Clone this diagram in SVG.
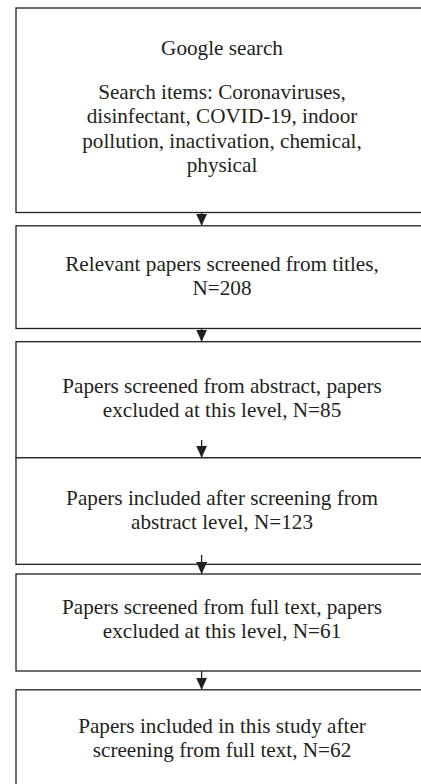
<svg xmlns="http://www.w3.org/2000/svg" width="421" height="784" viewBox="0 0 421 784">
  <style>
    .box { fill: #ffffff; stroke: #231f20; stroke-width: 1.3; }
    .lbl { font-family: "Liberation Serif", "Times New Roman", serif; font-size: 21.2px; fill: #231f20; text-anchor: middle; }
    .conn { stroke: #231f20; stroke-width: 1.3; fill: none; marker-end: url(#arr); }
  </style>
  <defs>
    <marker id="arr" markerUnits="userSpaceOnUse" viewBox="0 0 12 11" markerWidth="12" markerHeight="11" refX="12" refY="5.5" orient="auto">
      <path d="M0,0 L12,5.5 L0,11 Z" fill="#231f20"/>
    </marker>
  </defs>
  <rect width="421" height="784" fill="#ffffff"/>

  <g id="node-google">
    <rect class="box" x="16" y="8" width="420" height="204.5"/>
    <text class="lbl" x="222" y="54.5">Google search</text>
    <text class="lbl" x="222" y="99">Search items: Coronaviruses,</text>
    <text class="lbl" x="222" y="123.3">disinfectant, COVID-19, indoor</text>
    <text class="lbl" x="222" y="147.6">pollution, inactivation, chemical,</text>
    <text class="lbl" x="222" y="171.9">physical</text>
  </g>

  <g id="node-titles">
    <rect class="box" x="16" y="225.8" width="420" height="102.7"/>
    <text class="lbl" x="222" y="270.7">Relevant papers screened from titles,</text>
    <text class="lbl" x="222" y="295">N=208</text>
  </g>

  <g id="node-abstract">
    <rect class="box" x="16" y="341.7" width="420" height="116.1"/>
    <text class="lbl" x="222" y="392.7">Papers screened from abstract, papers</text>
    <text class="lbl" x="222" y="417">excluded at this level, N=85</text>
  </g>

  <g id="node-included-abstract">
    <rect class="box" x="16" y="457.8" width="420" height="106.5"/>
    <text class="lbl" x="222" y="504.5">Papers included after screening from</text>
    <text class="lbl" x="222" y="529">abstract level, N=123</text>
  </g>

  <g id="node-fulltext">
    <rect class="box" x="16" y="574" width="420" height="97"/>
    <text class="lbl" x="222" y="613.5">Papers screened from full text, papers</text>
    <text class="lbl" x="222" y="638">excluded at this level, N=61</text>
  </g>

  <g id="node-final">
    <rect class="box" x="16" y="689.8" width="420" height="120"/>
    <text class="lbl" x="222" y="732.7">Papers included in this study after</text>
    <text class="lbl" x="222" y="757">screening from full text, N=62</text>
  </g>

  <g id="connectors">
    <line class="conn" x1="201.6" y1="212.5" x2="201.6" y2="225.8"/>
    <line class="conn" x1="201.6" y1="328.5" x2="201.6" y2="341.7"/>
    <line class="conn" x1="201.6" y1="440" x2="201.6" y2="457.8"/>
    <line class="conn" x1="201.6" y1="555" x2="201.6" y2="574"/>
    <line class="conn" x1="201.6" y1="671" x2="201.6" y2="689.8"/>
  </g>
</svg>
